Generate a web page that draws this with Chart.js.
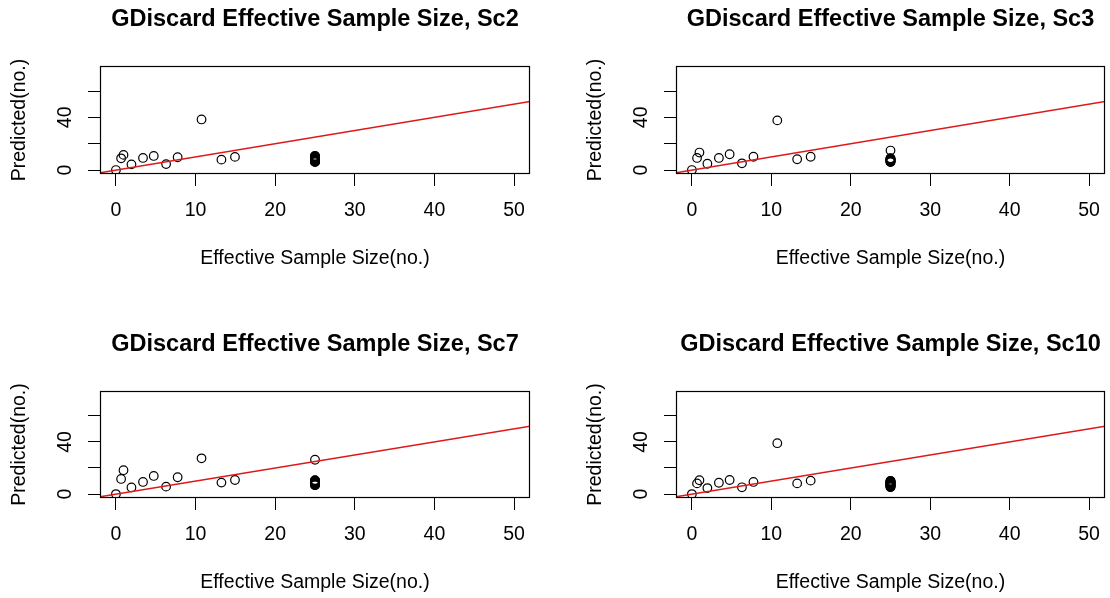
<!DOCTYPE html>
<html>
<head>
<meta charset="utf-8">
<script src="https://cdn.jsdelivr.net/npm/chart.js@4/dist/chart.umd.min.js"></script>
<style>
  html, body { margin: 0; padding: 0; background: #fff; overflow: hidden; }
  #wrap { position: relative; width: 1110px; height: 598px; overflow: hidden; }
  canvas { position: absolute; }
</style>
</head>
<body>
<div id="wrap">
  <canvas id="sc2" width="555" height="325" style="left:0;top:0"></canvas>
  <canvas id="sc3" width="554" height="325" style="left:576px;top:0"></canvas>
  <canvas id="sc7" width="555" height="273" style="left:0;top:325px"></canvas>
  <canvas id="sc10" width="554" height="273" style="left:576px;top:325px"></canvas>
</div>
<script>
// axis setup (R style: ticks outside, box around plot)
const xLimits = [-2, 52];
const yLimits = [-3, 79];
const xTicks = [0, 10, 20, 30, 40, 50];
const yTicks = [0, 20, 40, 60];
const yTickLabels = ['0', '', '40', ''];

// effective sample size (x) and predicted (y) for each scenario
const essSc2 = [0, 0.65, 0.95, 1.95, 3.4, 4.75, 6.3, 7.75, 10.75, 13.25, 14.95,
  25, 25, 25, 25, 25, 25, 25, 25, 25, 25, 25, 25, 25, 25, 25, 25, 25, 25, 25, 25];
const predSc2 = [0, 8.9, 11.5, 4.3, 9.2, 10.7, 4.5, 9.7, 38.4, 7.9, 10.0,
  6.0, 6.25, 6.5, 6.75, 7.0, 7.25, 7.5, 7.75, 8.0, 8.25, 8.5, 8.75, 9.0, 9.25,
  9.5, 9.75, 10.0, 10.25, 10.5, 10.8];

const essSc3 = [0, 0.65, 0.95, 1.95, 3.4, 4.75, 6.3, 7.75, 10.75, 13.25, 14.95,
  25, 25, 25, 25, 25, 25, 25, 25, 25, 25, 25, 25, 25, 25];
const predSc3 = [0, 9.2, 13.3, 4.8, 9.2, 12.0, 5.1, 10.1, 37.7, 8.2, 10.1,
  14.8, 6.0, 6.25, 6.5, 6.75, 7.0, 7.25, 7.5, 7.75, 8.0, 8.25, 8.5, 8.75, 9.0];

const essSc7 = [0, 0.65, 0.95, 1.95, 3.4, 4.75, 6.3, 7.75, 10.75, 13.25, 14.95,
  25, 25, 25, 25, 25, 25, 25, 25, 25, 25, 25, 25, 25, 25, 25, 25, 25, 25];
const predSc7 = [0, 11.6, 18.3, 5.1, 9.3, 13.9, 5.7, 12.9, 27.4, 8.8, 10.8,
  26.3, 6.8, 7.0, 7.25, 7.5, 7.75, 8.0, 8.25, 8.5, 8.75, 9.0, 9.25, 9.5,
  9.75, 10.0, 10.25, 10.5, 10.7];

const essSc10 = [0, 0.65, 0.95, 1.95, 3.4, 4.75, 6.3, 7.75, 10.75, 13.25, 14.95,
  25, 25, 25, 25, 25, 25, 25, 25, 25, 25, 25, 25, 25, 25, 25, 25, 25, 25, 25, 25, 25];
const predSc10 = [0, 8.2, 10.6, 4.6, 8.7, 10.8, 5.2, 9.3, 39.0, 8.2, 10.3,
  5.3, 5.55, 5.8, 6.05, 6.3, 6.55, 6.8, 7.05, 7.3, 7.55, 7.8, 8.05, 8.3, 8.55,
  8.8, 9.05, 9.3, 9.55, 9.8, 10.0, 10.2];

const FONT = 'Liberation Sans, Arial, Helvetica, sans-serif';
Chart.defaults.font.family = FONT;
Chart.defaults.color = '#000';

// box around the plotting region, like R's box()
const boxPlugin = {
  id: 'rBox',
  afterDraw(chart) {
    const { ctx, chartArea: a } = chart;
    ctx.save();
    ctx.strokeStyle = '#000';
    ctx.lineWidth = 1.2;
    const l = Math.round(a.left) + 0.5, t = Math.round(a.top) + 0.5;
    const r = Math.round(a.right) - 0.5, b = Math.round(a.bottom) - 0.5;
    ctx.strokeRect(l, t, r - l, b - t);
    ctx.restore();
  }
};

function makePanel(canvasId, label, xs, ys, plotBottom) {
  const canvas = document.getElementById(canvasId);
  const points = xs.map((x, i) => ({ x: x, y: ys[i] }));
  const identity = xLimits.map(v => ({ x: v, y: v }));

  return new Chart(canvas.getContext('2d'), {
    type: 'scatter',
    data: {
      datasets: [
        {
          type: 'line',
          data: identity,
          borderColor: 'rgb(222,24,24)',
          borderWidth: 1.5,
          pointRadius: 0,
          order: 0
        },
        {
          data: points,
          pointStyle: 'circle',
          pointRadius: 4.3,
          backgroundColor: 'rgba(0,0,0,0)',
          borderColor: '#000',
          borderWidth: 1.2,
          order: 1
        }
      ]
    },
    options: {
      responsive: false,
      animation: false,
      layout: { padding: { left: 0, right: 25, top: 0, bottom: canvas.height - plotBottom - 100 } },
      plugins: {
        legend: { display: false },
        tooltip: { enabled: false },
        title: {
          display: true,
          fullSize: false,
          text: 'GDiscard Effective Sample Size, ' + label,
          color: '#000',
          font: { size: 23.5, weight: 'bold', family: FONT },
          padding: { top: 5.9, bottom: 31.9 }
        }
      },
      scales: {
        x: {
          type: 'linear',
          min: xLimits[0],
          max: xLimits[1],
          afterBuildTicks: s => { s.ticks = xTicks.map(v => ({ value: v })); },
          afterFit: s => { s.height = 100; },
          grid: { drawOnChartArea: false, drawTicks: true, tickLength: 12, color: '#000', lineWidth: 1 },
          border: { display: false },
          ticks: { autoSkip: false, maxRotation: 0, padding: 13, color: '#000', font: { size: 19.5 } },
          title: {
            display: true,
            text: 'Effective Sample Size(no.)',
            color: '#000',
            font: { size: 19.5 },
            padding: { top: 0, bottom: 4 }
          }
        },
        y: {
          type: 'linear',
          min: yLimits[0],
          max: yLimits[1],
          afterBuildTicks: s => { s.ticks = yTicks.map(v => ({ value: v })); },
          afterFit: s => { s.width = 100; },
          grid: { drawOnChartArea: false, drawTicks: true, tickLength: 12, color: '#000', lineWidth: 1 },
          border: { display: false },
          ticks: {
            autoSkip: false,
            minRotation: 90,
            maxRotation: 90,
            crossAlign: 'center',
            padding: 12,
            color: '#000',
            font: { size: 19.5 },
            callback: v => yTickLabels[yTicks.indexOf(v)]
          },
          title: {
            display: true,
            text: 'Predicted(no.)',
            color: '#000',
            font: { size: 19.5 },
            padding: { top: 8, bottom: 0 }
          }
        }
      }
    },
    plugins: [boxPlugin]
  });
}

makePanel('sc2', 'Sc2', essSc2, predSc2, 174);
makePanel('sc3', 'Sc3', essSc3, predSc3, 174);
makePanel('sc7', 'Sc7', essSc7, predSc7, 173);
makePanel('sc10', 'Sc10', essSc10, predSc10, 173);
</script>
</body>
</html>
